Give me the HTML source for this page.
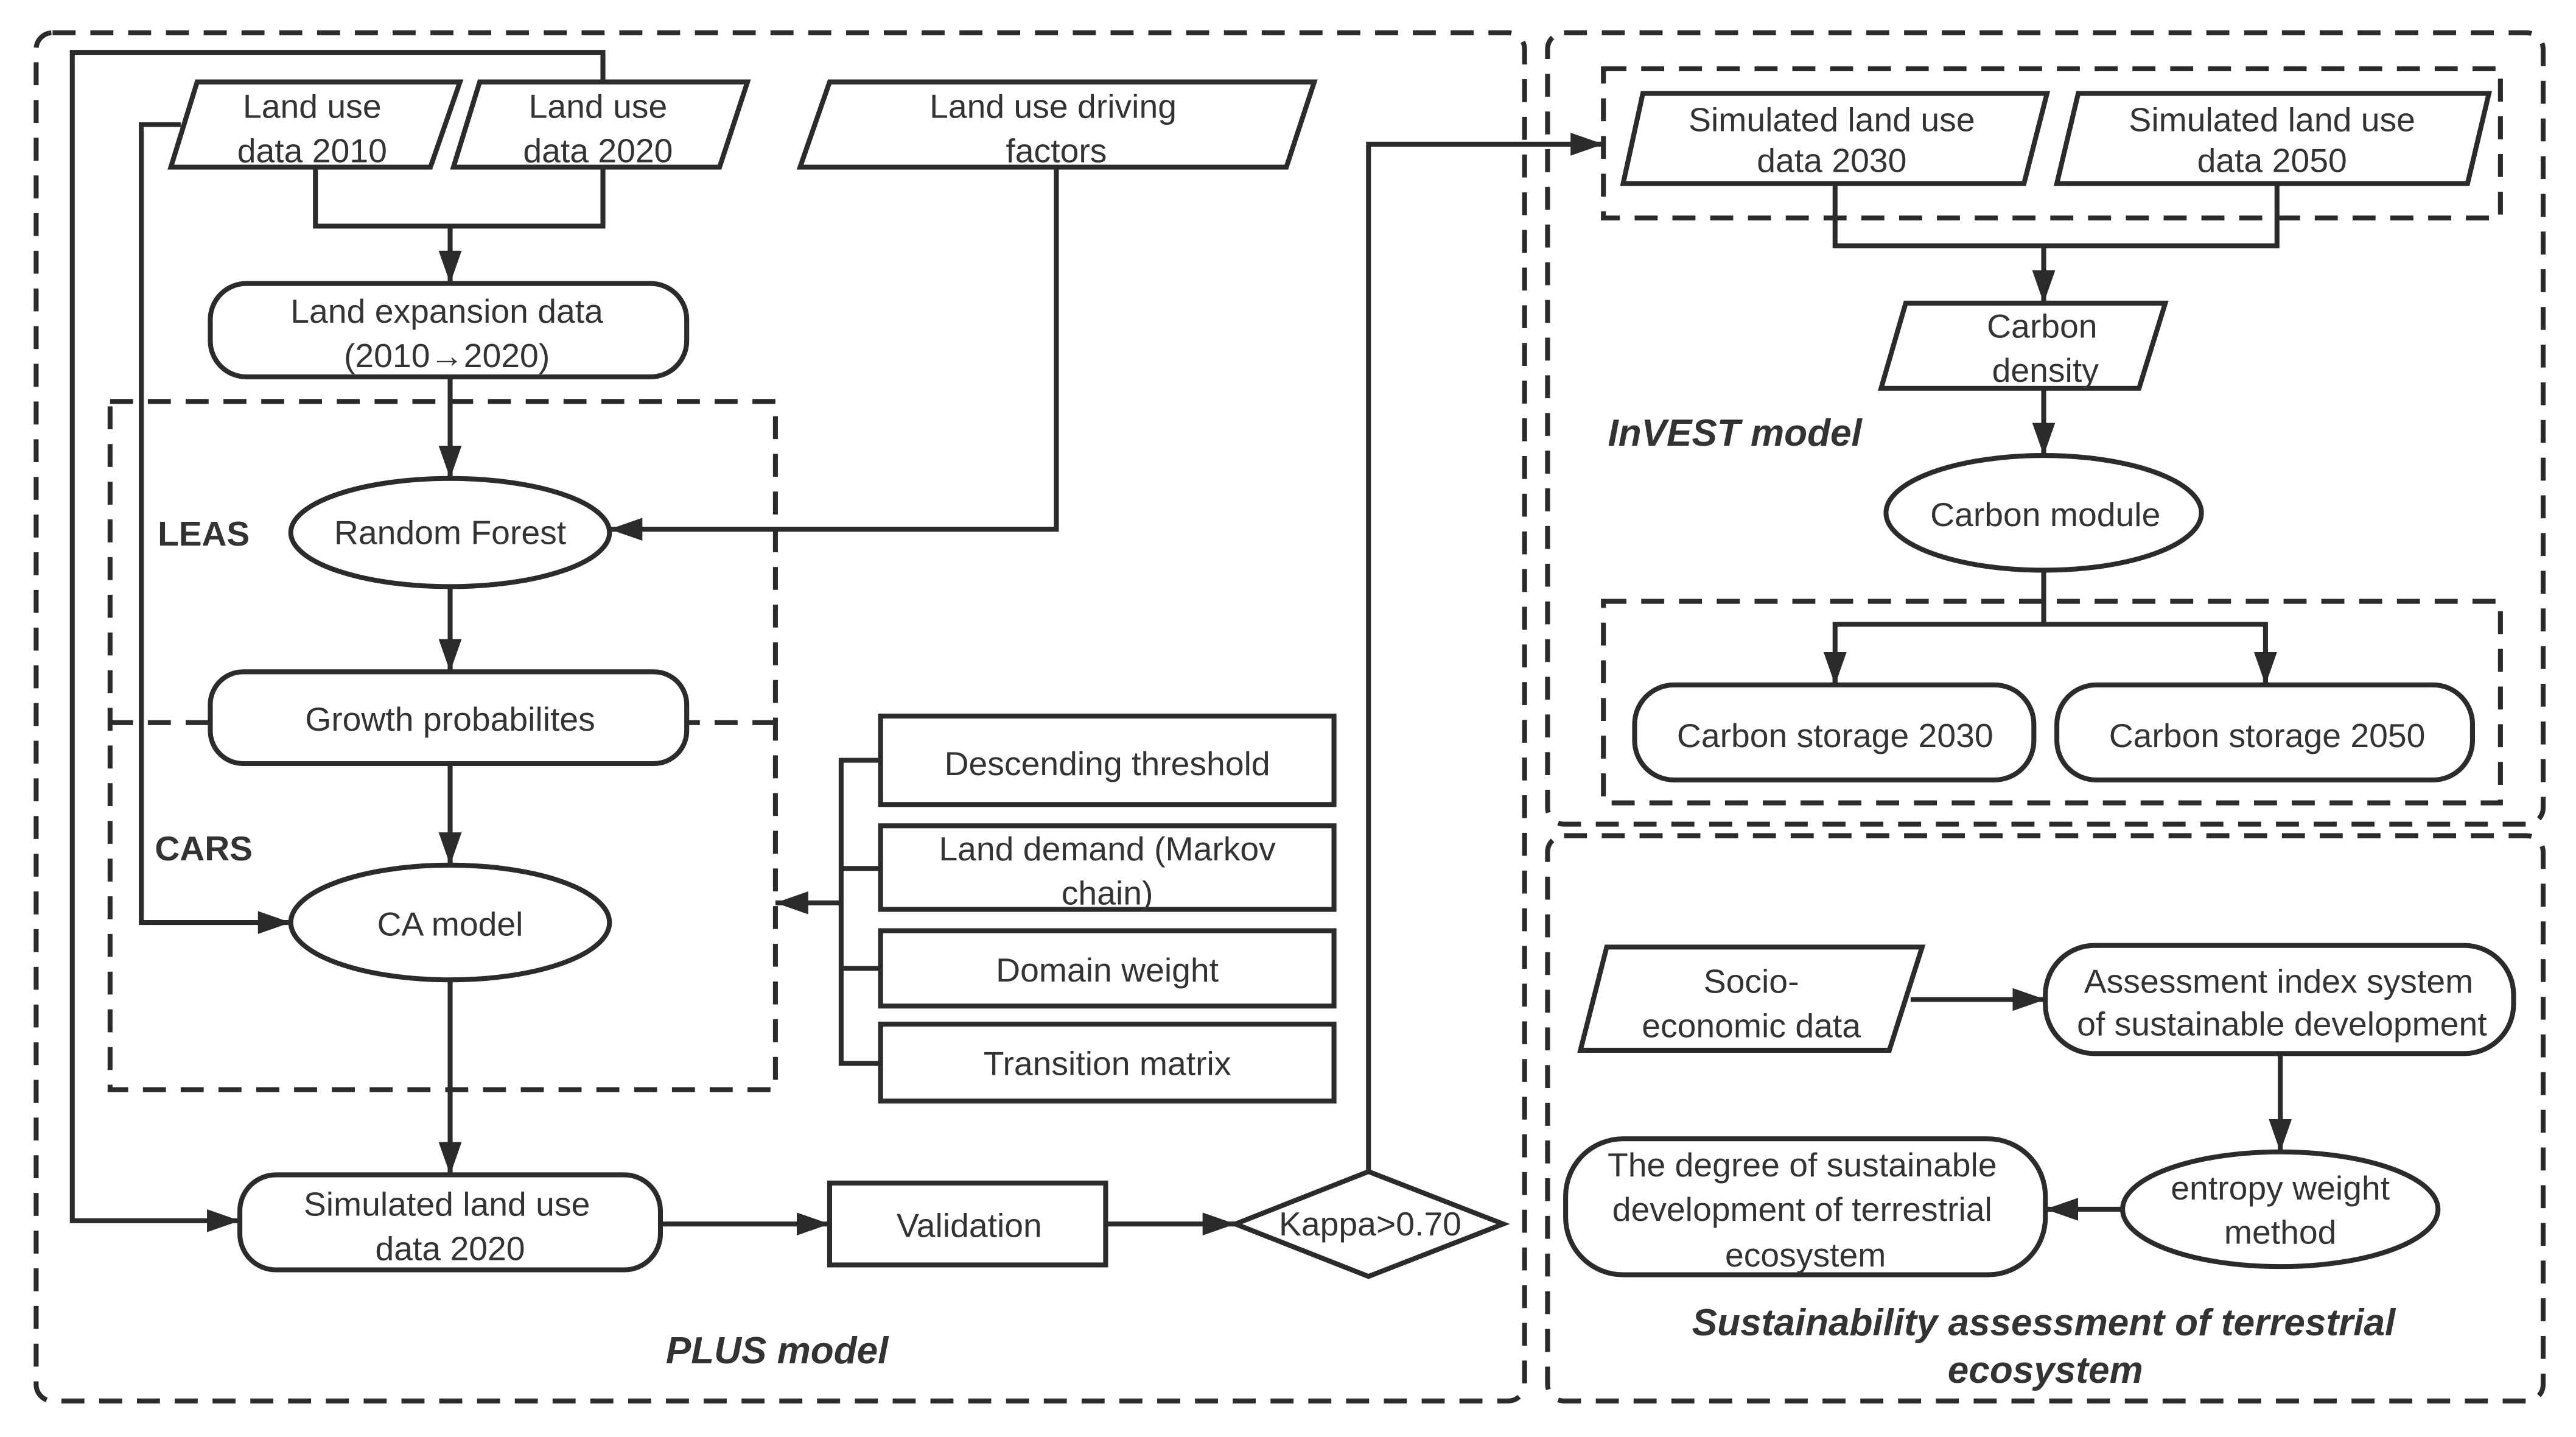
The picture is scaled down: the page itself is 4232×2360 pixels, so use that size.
<!DOCTYPE html>
<html><head><meta charset="utf-8"><style>
html,body{margin:0;padding:0;background:#fff;}
svg{display:block;}
text{font-family:"Liberation Sans",Arial,sans-serif;fill:#333;font-size:20.5px;text-anchor:middle;}
.b{font-weight:bold;font-size:21px;}
.i{font-weight:bold;font-style:italic;font-size:23px;}
</style></head><body>
<svg width="4232" height="2360" viewBox="0 0 1568 877" preserveAspectRatio="none" xmlns="http://www.w3.org/2000/svg">
<defs>
<marker id="A" markerWidth="20" markerHeight="16" refX="20" refY="8" orient="auto" markerUnits="userSpaceOnUse" viewBox="0 0 20 16">
<path d="M0,1 L20,8 L0,15 z" fill="#2b2b2b"/></marker>
</defs>
<g fill="none" stroke="#2b2b2b" stroke-width="3" stroke-dasharray="14,9">
<rect x="22" y="20" width="906" height="835" rx="10"/>
<rect x="942" y="20" width="606" height="483" rx="10"/>
<rect x="942" y="510" width="606" height="345" rx="10"/>
<rect x="67" y="245" width="405" height="420"/>
<line x1="67" y1="441" x2="472" y2="441"/>
<rect x="976" y="42" width="546" height="91"/>
<rect x="976" y="367" width="546" height="123"/>
</g>
<g fill="#fff" stroke="#2b2b2b" stroke-width="3">
<polygon points="120,50 280,50 262,102 104,102"/>
<polygon points="292,50 455,50 438,102 276,102"/>
<polygon points="505,50 800,50 783,102 487,102"/>
<rect x="128" y="173" width="290" height="57" rx="22"/>
<ellipse cx="274" cy="325" rx="97" ry="33"/>
<rect x="128" y="410" width="290" height="56" rx="20"/>
<ellipse cx="274" cy="563" rx="97" ry="35"/>
<rect x="146" y="717" width="256" height="58" rx="22"/>
<rect x="505" y="722" width="168" height="50"/>
<polygon points="752,747 833,715 915,747 833,779"/>
<rect x="536" y="437" width="276" height="54"/>
<rect x="536" y="504" width="276" height="51"/>
<rect x="536" y="568" width="276" height="46"/>
<rect x="536" y="625" width="276" height="47"/>
<polygon points="1000,57 1246,57 1232,112 988,112"/>
<polygon points="1265,57 1515,57 1502,112 1252,112"/>
<polygon points="1160,185 1318,185 1302,237 1145,237"/>
<ellipse cx="1244" cy="313" rx="96" ry="35"/>
<rect x="995" y="418" width="243" height="58" rx="24"/>
<rect x="1252" y="418" width="253" height="58" rx="24"/>
<polygon points="978,578 1170,578 1150,641 962,641"/>
<rect x="1245" y="577" width="285" height="66" rx="30"/>
<ellipse cx="1388" cy="738" rx="96" ry="35"/>
<rect x="953" y="695" width="292" height="83" rx="35"/>
</g>
<g fill="none" stroke="#2b2b2b" stroke-width="3">
<polyline points="192,102 192,138 367,138 367,102"/>
<line x1="274" y1="138" x2="274" y2="173" marker-end="url(#A)"/>
<polyline points="367,50 367,32 44,32 44,745 146,745" marker-end="url(#A)"/>
<polyline points="110,76 86,76 86,563 177,563" marker-end="url(#A)"/>
<polyline points="643,102 643,323 371,323" marker-end="url(#A)"/>
<line x1="274" y1="230" x2="274" y2="292" marker-end="url(#A)"/>
<line x1="274" y1="358" x2="274" y2="410" marker-end="url(#A)"/>
<line x1="274" y1="466" x2="274" y2="528" marker-end="url(#A)"/>
<line x1="274" y1="598" x2="274" y2="717" marker-end="url(#A)"/>
<line x1="402" y1="747" x2="505" y2="747" marker-end="url(#A)"/>
<line x1="673" y1="747" x2="752" y2="747" marker-end="url(#A)"/>
<polyline points="833,715 833,88 976,88" marker-end="url(#A)"/>
<polyline points="536,464 512,464 512,649 536,649"/>
<line x1="512" y1="530" x2="536" y2="530"/>
<line x1="512" y1="591" x2="536" y2="591"/>
<line x1="512" y1="551" x2="472" y2="551" marker-end="url(#A)"/>
<polyline points="1117,112 1117,150 1386,150 1386,112"/>
<line x1="1244" y1="150" x2="1244" y2="185" marker-end="url(#A)"/>
<line x1="1244" y1="237" x2="1244" y2="278" marker-end="url(#A)"/>
<line x1="1244" y1="348" x2="1244" y2="381"/>
<polyline points="1117,418 1117,381 1379,381 1379,418"/>
<line x1="1117" y1="400" x2="1117" y2="418" marker-end="url(#A)"/>
<line x1="1379" y1="400" x2="1379" y2="418" marker-end="url(#A)"/>
<line x1="1163" y1="610" x2="1245" y2="610" marker-end="url(#A)"/>
<line x1="1388" y1="643" x2="1388" y2="703" marker-end="url(#A)"/>
<line x1="1292" y1="738" x2="1245" y2="738" marker-end="url(#A)"/>
</g>
<text x="190" y="72">Land use</text><text x="190" y="99">data 2010</text>
<text x="364" y="72">Land use</text><text x="364" y="99">data 2020</text>
<text x="641" y="72">Land use driving</text><text x="643" y="99">factors</text>
<text x="272" y="197">Land expansion data</text><text x="272" y="224">(2010→2020)</text>
<text x="274" y="332">Random Forest</text>
<text x="274" y="446">Growth probabilites</text>
<text x="274" y="571">CA model</text>
<text x="272" y="742">Simulated land use</text><text x="274" y="769">data 2020</text>
<text x="590" y="755">Validation</text>
<text x="834" y="754">Kappa&gt;0.70</text>
<text x="674" y="473">Descending threshold</text>
<text x="674" y="525">Land demand (Markov</text><text x="674" y="552">chain)</text>
<text x="674" y="599">Domain weight</text>
<text x="674" y="656">Transition matrix</text>
<text x="124" y="333" class="b">LEAS</text>
<text x="124" y="525" class="b">CARS</text>
<text x="473" y="832" class="i">PLUS model</text>
<text x="1115" y="80">Simulated land use</text><text x="1115" y="105">data 2030</text>
<text x="1383" y="80">Simulated land use</text><text x="1383" y="105">data 2050</text>
<text x="1243" y="206">Carbon</text><text x="1245" y="233">density</text>
<text x="1056" y="272" class="i">InVEST model</text>
<text x="1245" y="321">Carbon module</text>
<text x="1117" y="456">Carbon storage 2030</text>
<text x="1380" y="456">Carbon storage 2050</text>
<text x="1066" y="606">Socio-</text><text x="1066" y="633">economic data</text>
<text x="1387" y="606">Assessment index system</text><text x="1389" y="632">of sustainable development</text>
<text x="1388" y="732">entropy weight</text><text x="1388" y="759">method</text>
<text x="1097" y="718">The degree of sustainable</text><text x="1097" y="745">development of terrestrial</text><text x="1099" y="773">ecosystem</text>
<text x="1244" y="815" class="i">Sustainability assessment of terrestrial</text>
<text x="1245" y="844" class="i">ecosystem</text>
</svg>
</body></html>
